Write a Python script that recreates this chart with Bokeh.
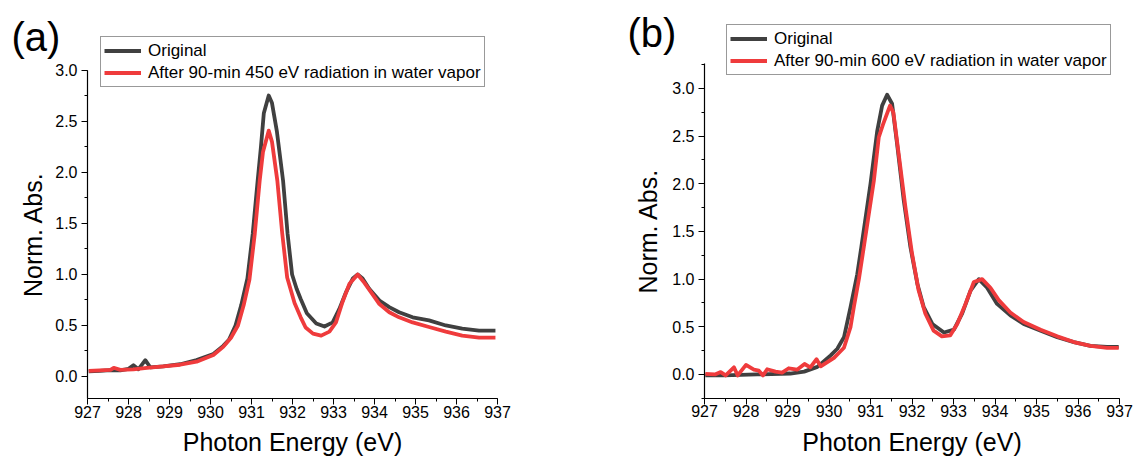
from bokeh.plotting import figure
from bokeh.layouts import row
from bokeh.models import (SingleIntervalTicker, Legend, LegendItem, Label, Range1d,
                          CustomJSTickFormatter)
from bokeh.embed import file_html
from bokeh.resources import INLINE

# ---------------- data ----------------
xa_orig = [927.03, 927.30, 927.56, 927.80, 928.00, 928.12, 928.24, 928.41, 928.53, 928.85,
           929.26, 929.66, 930.07, 930.31, 930.45, 930.61, 930.75, 930.90, 931.03, 931.15,
           931.23, 931.30, 931.42, 931.50, 931.62, 931.77, 931.88, 931.99, 932.10, 932.20,
           932.35, 932.58, 932.78,
           932.98, 933.14, 933.31, 933.47, 933.59, 933.71, 933.87, 934.12, 934.36, 934.60,
           934.93, 935.33, 935.74, 936.14, 936.55, 936.95]
ya_orig = [0.05, 0.055, 0.063, 0.06, 0.075, 0.11, 0.07, 0.16, 0.09, 0.10,
           0.12, 0.16, 0.22, 0.30, 0.36, 0.50, 0.70, 0.96, 1.40, 1.92,
           2.25, 2.58, 2.755, 2.68, 2.40, 1.92, 1.40, 1.00, 0.86, 0.76,
           0.62, 0.52, 0.49,
           0.53, 0.66, 0.83, 0.96, 1.00, 0.96, 0.86, 0.745, 0.68, 0.63,
           0.58, 0.55, 0.50, 0.47, 0.45, 0.45]

xa_rad = [927.03, 927.30, 927.56, 927.64, 927.80, 928.12, 928.45, 928.85, 929.26, 929.66,
          930.07, 930.31, 930.50, 930.67, 930.81, 930.95, 931.08, 931.20, 931.28, 931.42,
          931.50, 931.63, 931.75, 931.87, 932.05, 932.20, 932.32, 932.50, 932.70, 932.90,
          933.06, 933.22,
          933.39, 933.59, 933.75, 933.91, 934.12, 934.36, 934.60, 934.93, 935.33, 935.74,
          936.14, 936.55, 936.95]
ya_rad = [0.055, 0.06, 0.065, 0.085, 0.065, 0.07, 0.085, 0.10, 0.115, 0.145,
          0.21, 0.29, 0.38, 0.50, 0.70, 0.95, 1.40, 1.92, 2.20, 2.41,
          2.30, 1.92, 1.40, 0.97, 0.72, 0.58, 0.48, 0.42, 0.40, 0.44,
          0.53, 0.73,
          0.91, 1.00, 0.92, 0.83, 0.71, 0.63, 0.58, 0.53, 0.485, 0.44,
          0.40, 0.38, 0.38]

xb_orig = [927.02, 927.47, 928.27, 929.07, 929.40, 929.72, 930.04, 930.20, 930.36, 930.52,
           930.68, 930.78, 931.00, 931.16, 931.28, 931.40, 931.52, 931.64, 931.80, 931.96,
           932.13, 932.28, 932.49, 932.77, 933.01, 933.21, 933.41, 933.61, 933.81, 934.05,
           934.37, 934.69, 935.10, 935.50, 935.90, 936.30, 936.70, 936.98]
yb_orig = [-0.01, -0.01, 0.00, 0.01, 0.03, 0.08, 0.20, 0.27, 0.39, 0.71,
           1.05, 1.34, 2.00, 2.55, 2.82, 2.935, 2.84, 2.42, 1.83, 1.34,
           0.95, 0.71, 0.53, 0.44, 0.47, 0.64, 0.88, 1.00, 0.91, 0.74,
           0.62, 0.53, 0.46, 0.39, 0.34, 0.30, 0.29, 0.29]

xb_rad = [927.02, 927.25, 927.39, 927.51, 927.71, 927.80, 928.00, 928.19, 928.31, 928.41,
          928.51, 928.71, 928.87, 929.03, 929.23, 929.41, 929.55, 929.70, 929.80, 929.96,
          930.12, 930.36, 930.52, 930.60, 930.72, 930.84, 931.08, 931.20, 931.30, 931.47,
          931.55, 931.68, 931.84, 932.00, 932.16, 932.32, 932.52, 932.72, 932.92, 933.09,
          933.29, 933.49, 933.69, 933.89, 934.09, 934.37, 934.69, 935.10, 935.50, 935.90,
          936.30, 936.70, 936.98]
yb_rad = [0.007, 0.0, 0.025, -0.01, 0.075, -0.01, 0.10, 0.05, 0.04, -0.01,
          0.055, 0.03, 0.02, 0.065, 0.05, 0.11, 0.075, 0.16, 0.085, 0.13,
          0.175, 0.28, 0.50, 0.71, 1.00, 1.34, 2.03, 2.49, 2.62, 2.82,
          2.75, 2.31, 1.76, 1.27, 0.88, 0.64, 0.46, 0.40, 0.41, 0.53,
          0.74, 0.97, 1.00, 0.91, 0.78, 0.65, 0.55, 0.47, 0.40, 0.34,
          0.30, 0.28, 0.28]

legend_a = ["Original", "After 90-min 450 eV radiation in water vapor"]
legend_b = ["Original", "After 90-min 600 eV radiation in water vapor"]
x_label = "Photon Energy (eV)"
y_label = "Norm. Abs."
x_bounds = (927, 937)

BLACK = "#404040"
RED = "#ef3b3c"
FONT = "Liberation Sans"
H = 459


def make_panel(width, x_range, y_range, y_bounds, xo, yo, xr, yr, labels, tag,
               leg_xy, tag_xy, ylab_standoff):
    p = figure(width=width, height=H, output_backend="svg", toolbar_location=None,
               x_range=Range1d(*x_range), y_range=Range1d(*y_range),
               min_border=0, min_border_left=0, min_border_right=0,
               min_border_top=0, min_border_bottom=0)
    p.outline_line_color = None
    p.xgrid.visible = False
    p.ygrid.visible = False
    p.background_fill_color = "white"
    p.border_fill_color = "white"

    r1 = p.line(xo, yo, line_color=BLACK, line_width=3.8, line_join="round")
    r2 = p.line(xr, yr, line_color=RED, line_width=3.8, line_join="round")

    p.xaxis.ticker = SingleIntervalTicker(interval=1, num_minor_ticks=2)
    p.yaxis.ticker = SingleIntervalTicker(interval=0.5, num_minor_ticks=2)
    p.yaxis.formatter = CustomJSTickFormatter(code="return tick.toFixed(1);")
    p.xaxis.bounds = x_bounds
    p.yaxis.bounds = y_bounds
    p.xaxis.fixed_location = y_bounds[0]
    p.yaxis.fixed_location = x_bounds[0]
    for ax in (p.xaxis[0], p.yaxis[0]):
        ax.axis_line_color = "black"
        ax.axis_line_width = 1.2
        ax.major_tick_line_color = "black"
        ax.minor_tick_line_color = "black"
        ax.major_tick_out = 6
        ax.major_tick_in = 0
        ax.minor_tick_out = 3
        ax.minor_tick_in = 0
        ax.major_label_text_font = FONT
        ax.major_label_text_font_size = "16px"
        ax.major_label_text_color = "black"
        ax.axis_label_text_font = FONT
        ax.axis_label_text_font_size = "25px"
        ax.axis_label_text_font_style = "normal"
        ax.axis_label_text_color = "black"
    p.xaxis.axis_label = x_label
    p.yaxis.axis_label = y_label
    p.xaxis.major_label_standoff = 1
    p.xaxis.axis_label_standoff = 7
    p.yaxis.major_label_standoff = 4
    p.yaxis.axis_label_standoff = ylab_standoff

    leg = Legend(items=[LegendItem(label=labels[0], renderers=[r1]),
                        LegendItem(label=labels[1], renderers=[r2])],
                 location=leg_xy)
    leg.label_text_font = FONT
    leg.label_text_font_size = "17px"
    leg.label_text_color = "black"
    leg.glyph_width = 37
    leg.glyph_height = 21
    leg.label_height = 21
    leg.label_standoff = 7
    leg.spacing = 1
    leg.padding = 3
    leg.margin = 0
    leg.border_line_color = "#333333"
    leg.border_line_width = 1
    leg.background_fill_color = "white"
    leg.background_fill_alpha = 1
    p.add_layout(leg, "center")

    p.add_layout(Label(x=tag_xy[0], y=tag_xy[1], x_units="screen", y_units="screen",
                       text=tag, text_font=FONT, text_font_size="40px",
                       text_baseline="middle", text_color="black"))
    return p


# panel (a): 41 px per eV, 102 px per unit; frame spans the whole figure
pa = make_panel(620, (924.878, 940.0), (-0.814, 3.686), (-0.216, 3.0),
                xa_orig, ya_orig, xa_rad, ya_rad, legend_a, "(a)",
                (100, 372), (11, 423), 5)
# panel (b): 41.5 px per eV, 95.33 px per unit
pb = make_panel(513, (924.976, 937.337), (-0.892, 3.923), (-0.252, 3.262),
                xb_orig, yb_orig, xb_rad, yb_rad, legend_b, "(b)",
                (106, 384), (7, 427), 7)

layout = row(pa, pb)
open("out.html", "w").write(file_html(layout, INLINE))
